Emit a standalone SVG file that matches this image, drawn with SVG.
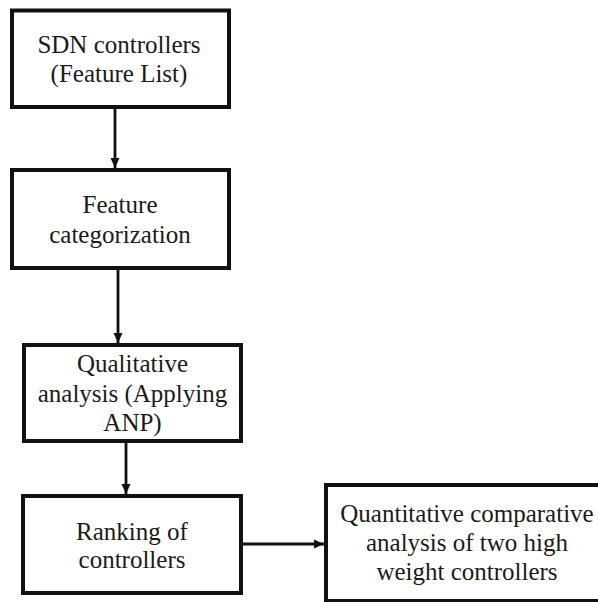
<svg xmlns="http://www.w3.org/2000/svg" width="598" height="602" viewBox="0 0 598 602">
  <style>
    .box { fill: #fff; stroke: #111; stroke-width: 4; }
    .lbl { font-family: "Liberation Serif", "Times New Roman", serif; font-size: 25px; fill: #1a1a1a; text-anchor: middle; }
    .conn { stroke: #111; stroke-width: 2.8; fill: none; marker-end: url(#head); }
  </style>
  <defs>
    <marker id="head" viewBox="0 0 10 10" refX="10" refY="5" markerWidth="10" markerHeight="10" markerUnits="userSpaceOnUse" orient="auto">
      <path d="M0,0.5 L10,5 L0,9.5 Z" fill="#111"/>
    </marker>
  </defs>
  <rect width="598" height="602" fill="#fff"/>

  <!-- flow arrows between the steps -->
  <g id="connectors">
    <line class="conn" x1="115" y1="109" x2="115" y2="168"/>
    <line class="conn" x1="118" y1="270" x2="118" y2="343"/>
    <line class="conn" x1="126" y1="443" x2="126" y2="494"/>
    <line class="conn" x1="243" y1="544" x2="324" y2="544"/>
  </g>

  <g id="sdn-controllers">
    <rect class="box" x="12" y="10.5" width="217" height="96.5"/>
    <text class="lbl" x="119" y="53">SDN controllers</text>
    <text class="lbl" x="119" y="82">(Feature List)</text>
  </g>

  <g id="feature-categorization">
    <rect class="box" x="12" y="170" width="217" height="98"/>
    <text class="lbl" x="120" y="213">Feature</text>
    <text class="lbl" x="120" y="243">categorization</text>
  </g>

  <g id="qualitative-analysis">
    <rect class="box" x="24" y="345" width="217" height="96"/>
    <text class="lbl" x="132.5" y="372">Qualitative</text>
    <text class="lbl" x="132.5" y="402">analysis (Applying</text>
    <text class="lbl" x="132.5" y="431">ANP)</text>
  </g>

  <g id="ranking">
    <rect class="box" x="23" y="496" width="218" height="97"/>
    <text class="lbl" x="132" y="540">Ranking of</text>
    <text class="lbl" x="132" y="568">controllers</text>
  </g>

  <g id="quantitative-analysis">
    <rect class="box" x="326" y="485" width="284" height="116"/>
    <text class="lbl" x="467" y="522">Quantitative comparative</text>
    <text class="lbl" x="467" y="551">analysis of two high</text>
    <text class="lbl" x="467" y="580">weight controllers</text>
  </g>
</svg>
